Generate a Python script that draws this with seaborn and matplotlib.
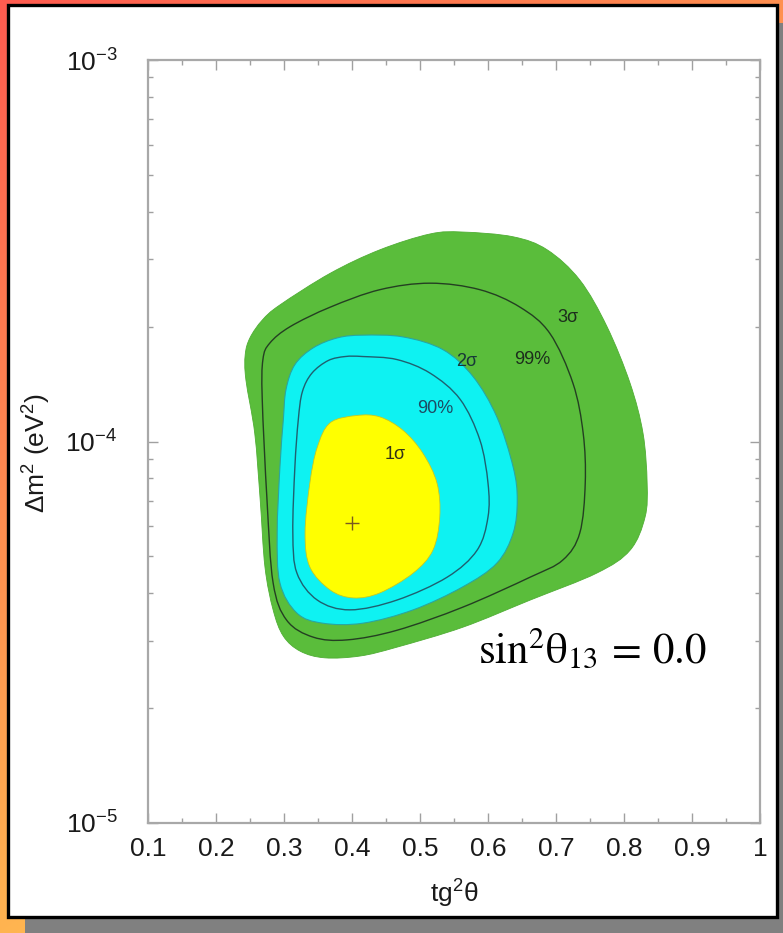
import numpy as np
import matplotlib
matplotlib.use("Agg")
import matplotlib.pyplot as plt
from matplotlib.path import Path
from matplotlib.patches import PathPatch, Rectangle
from matplotlib.ticker import LogLocator, MultipleLocator, NullFormatter
import seaborn as sns

# ---------------- data ----------------
# 3 sigma allowed region boundary (tg^2 theta, dm^2 [eV^2])
sigma3_x = [0.563, 0.637, 0.687, 0.735, 0.775, 0.809, 0.828, 0.834, 0.831, 0.809,
            0.760, 0.662, 0.563, 0.466, 0.412, 0.360, 0.324, 0.299, 0.284, 0.272,
            0.265, 0.257, 0.244, 0.243, 0.250, 0.268, 0.294, 0.368, 0.441, 0.515]
sigma3_y = [3.54e-4, 3.44e-4, 3.18e-4, 2.65e-4, 2.00e-4, 1.42e-4, 1.05e-4, 7.78e-5, 6.34e-5, 5.19e-5,
            4.52e-5, 3.84e-5, 3.26e-5, 2.89e-5, 2.74e-5, 2.71e-5, 2.82e-5, 3.09e-5, 3.62e-5, 4.69e-5,
            7.03e-5, 1.05e-4, 1.45e-4, 1.69e-4, 1.87e-4, 2.08e-4, 2.28e-4, 2.76e-4, 3.18e-4, 3.50e-4]

# 99% C.L. contour line
cl99_x = [0.515, 0.588, 0.647, 0.691, 0.725, 0.740, 0.743, 0.735, 0.710, 0.662, 0.563, 0.466,
          0.393, 0.343, 0.304, 0.284, 0.275, 0.268, 0.269, 0.279, 0.309, 0.368, 0.441]
cl99_y = [2.60e-4, 2.50e-4, 2.25e-4, 1.92e-4, 1.42e-4, 1.05e-4, 7.78e-5, 5.76e-5, 4.89e-5, 4.41e-5, 3.68e-5, 3.20e-5,
          3.02e-5, 3.07e-5, 3.40e-5, 4.26e-5, 7.03e-5, 1.29e-4, 1.64e-4, 1.81e-4, 2.00e-4, 2.25e-4, 2.50e-4]

# 2 sigma allowed region boundary
sigma2_x = [0.416, 0.475, 0.534, 0.578, 0.613, 0.637, 0.643, 0.637, 0.613, 0.563, 0.490,
            0.416, 0.357, 0.319, 0.294, 0.290, 0.294, 0.299, 0.303, 0.316, 0.343, 0.379]
sigma2_y = [1.90e-4, 1.88e-4, 1.74e-4, 1.48e-4, 1.16e-4, 8.57e-5, 7.03e-5, 5.76e-5, 4.80e-5, 4.16e-5, 3.62e-5,
            3.34e-5, 3.34e-5, 3.55e-5, 4.26e-5, 5.76e-5, 8.57e-5, 1.14e-4, 1.37e-4, 1.59e-4, 1.76e-4, 1.87e-4]

# 90% C.L. contour line
cl90_x = [0.416, 0.466, 0.515, 0.559, 0.588, 0.600, 0.600, 0.584, 0.540, 0.466,
          0.397, 0.349, 0.319, 0.313, 0.316, 0.321, 0.327, 0.341, 0.365, 0.390]
cl90_y = [1.67e-4, 1.64e-4, 1.51e-4, 1.29e-4, 1.01e-4, 7.78e-5, 6.34e-5, 5.19e-5, 4.41e-5, 3.84e-5,
          3.62e-5, 3.84e-5, 4.52e-5, 5.76e-5, 8.57e-5, 1.14e-4, 1.35e-4, 1.51e-4, 1.63e-4, 1.67e-4]

# 1 sigma allowed region boundary
sigma1_x = [0.407, 0.441, 0.475, 0.504, 0.525, 0.529, 0.519, 0.490, 0.441, 0.402,
            0.368, 0.338, 0.331, 0.338, 0.349, 0.368]
sigma1_y = [1.17e-4, 1.16e-4, 1.07e-4, 9.33e-5, 7.78e-5, 6.34e-5, 5.19e-5, 4.52e-5, 4.01e-5, 3.89e-5,
            4.08e-5, 4.69e-5, 5.76e-5, 7.78e-5, 9.67e-5, 1.12e-4]

best_fit_x = [0.40]
best_fit_y = [6.1e-5]

contour_labels = ["3σ", "99%", "2σ", "90%", "1σ"]
label_x = [0.718, 0.665, 0.568, 0.522, 0.463]
label_y = [2.11e-4, 1.645e-4, 1.616e-4, 1.217e-4, 9.22e-5]
label_colors = ["#1c2e1c", "#1c2e1c", "#173838", "#1d4a63", "#333318"]

x_ticks = [0.1, 0.2, 0.3, 0.4, 0.5, 0.6, 0.7, 0.8, 0.9, 1.0]
x_tick_labels = ["0.1", "0.2", "0.3", "0.4", "0.5", "0.6", "0.7", "0.8", "0.9", "1"]
y_ticks = [1e-5, 1e-4, 1e-3]
y_tick_labels = [r"$10^{-5}$", r"$10^{-4}$", r"$10^{-3}$"]

# ---------------- style ----------------
sns.set_theme(style="ticks")
plt.rcParams["font.family"] = ["Liberation Sans", "DejaVu Sans"]
plt.rcParams["mathtext.fontset"] = "custom"
plt.rcParams["mathtext.rm"] = "Liberation Sans"
plt.rcParams["mathtext.it"] = "Liberation Sans:italic"
plt.rcParams["mathtext.bf"] = "Liberation Sans:bold"

W, H = 783, 933
fig = plt.figure(figsize=(W / 100, H / 100), dpi=100)

# slide-like background: gradient, drop shadow, white panel
bg = fig.add_axes([0, 0, 1, 1], zorder=-10)
xf = np.linspace(0, 1, 200)[None, :]
yf = np.linspace(0, 1, 200)[:, None]
gch = 92 + 52 * xf + 88 * yf
img = np.dstack([np.full_like(gch, 255), gch, np.full_like(gch, 80)]) / 255.0
bg.imshow(img, extent=[0, W, H, 0], aspect="auto", interpolation="bilinear")
bg.set_xlim(0, W)
bg.set_ylim(H, 0)
bg.axis("off")
bg.add_patch(Rectangle((25, 23), 780, 930, facecolor="#808080", edgecolor="none"))
bg.add_patch(Rectangle((8, 5), 769, 912, facecolor="white", edgecolor="black", lw=2.4))

ax = fig.add_axes([148 / W, 1 - 823 / H, 612 / W, 763 / H])
ax.set_facecolor("white")
ax.set_yscale("log")
ax.set_xlim(0.1, 1.0)
ax.set_ylim(1e-5, 1e-3)


def smooth_path(xs, ys):
    """Closed smooth path through the given boundary points (Catmull-Rom in x/log y)."""
    p = np.column_stack([np.asarray(xs, float), np.log10(np.asarray(ys, float))])
    n = len(p)
    verts = [p[0]]
    codes = [Path.MOVETO]
    for i in range(n):
        p0, p1, p2, p3 = p[i - 1], p[i], p[(i + 1) % n], p[(i + 2) % n]
        c1 = p1 + (p2 - p0) / 6.0
        c2 = p2 - (p3 - p1) / 6.0
        verts += [c1, c2, p2]
        codes += [Path.CURVE4] * 3
    verts = np.array(verts)
    verts[:, 1] = 10 ** verts[:, 1]
    return Path(verts, codes)


ax.add_patch(PathPatch(smooth_path(sigma3_x, sigma3_y), facecolor="#5abd3b",
                       edgecolor="#4fae34", lw=0.6, zorder=2))
ax.add_patch(PathPatch(smooth_path(cl99_x, cl99_y), facecolor="none",
                       edgecolor="#243f22", lw=1.0, zorder=3))
ax.add_patch(PathPatch(smooth_path(sigma2_x, sigma2_y), facecolor="#0ef2f2",
                       edgecolor="#2aa6a0", lw=0.8, zorder=4))
ax.add_patch(PathPatch(smooth_path(cl90_x, cl90_y), facecolor="none",
                       edgecolor="#1f6070", lw=1.0, zorder=5))
ax.add_patch(PathPatch(smooth_path(sigma1_x, sigma1_y), facecolor="#ffff00",
                       edgecolor="#c8c820", lw=0.6, zorder=6))

sns.scatterplot(x=best_fit_x, y=best_fit_y, marker="+", s=90, color="#7a5a20",
                linewidth=1.0, ax=ax, zorder=7, legend=False)

for t, lx, ly, c in zip(contour_labels, label_x, label_y, label_colors):
    ax.text(lx, ly, t, fontsize=13, color=c, ha="center", va="center", zorder=8)

ax.text(0.539, 0.209, r"$\mathrm{sin}^{2}\mathrm{\theta}_{13}\,=\,0.0$", transform=ax.transAxes,
        fontsize=31, math_fontfamily="stix", color="black", ha="left", va="baseline", zorder=9)

# axes & ticks
ax.set_xticks(x_ticks, x_tick_labels)
ax.xaxis.set_minor_locator(MultipleLocator(0.05))
ax.set_yticks(y_ticks, y_tick_labels)
ax.yaxis.set_minor_locator(LogLocator(base=10, subs=np.arange(2, 10)))
ax.yaxis.set_minor_formatter(NullFormatter())
ax.tick_params(which="both", direction="in", top=True, right=True, color="#a0a0a0",
               labelcolor="#1a1a1a", width=1.0)
ax.tick_params(which="major", length=7)
ax.tick_params(which="minor", length=3.5)
ax.tick_params(axis="x", labelsize=19, pad=10)
ax.tick_params(axis="y", labelsize=19, pad=22)
for s in ax.spines.values():
    s.set_color("#a8a8a8")
    s.set_linewidth(1.6)

ax.set_xlabel(r"tg$^{2}$θ", fontsize=19, color="#1a1a1a", labelpad=12)
ax.set_ylabel(r"Δm$^{2}$ (eV$^{2}$)", fontsize=19, color="#1a1a1a")
ax.yaxis.set_label_coords(-0.155, 0.485)

fig.savefig("out.png", dpi=100)
